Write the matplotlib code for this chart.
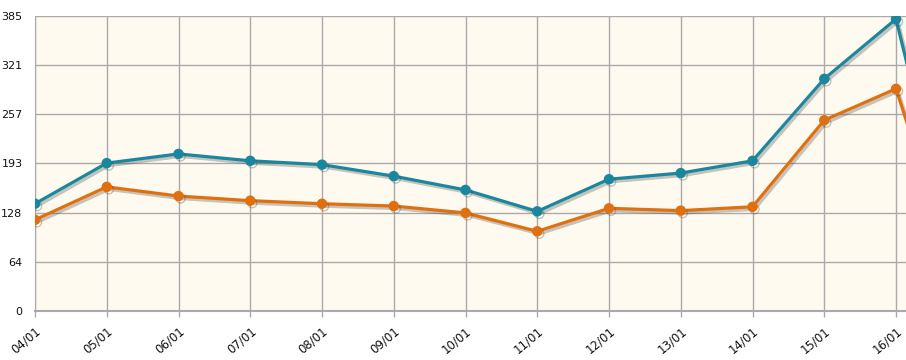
import matplotlib
matplotlib.use("Agg")
import matplotlib.pyplot as plt
import matplotlib.patheffects as pe
import numpy as np

# daily values; the last point (17/01) lies past the right edge of the plot
dates = ["04/01", "05/01", "06/01", "07/01", "08/01", "09/01", "10/01",
         "11/01", "12/01", "13/01", "14/01", "15/01", "16/01", "17/01"]
series_teal = [140, 193, 205, 196, 191, 176, 158, 130, 172, 180, 196, 303, 381, 0]
series_orange = [119, 162, 150, 144, 140, 137, 128, 104, 134, 131, 136, 249, 290, 0]
y_ticks = [0, 64, 128, 193, 257, 321, 385]

fig = plt.figure(figsize=(9.06, 3.6), dpi=100)
ax = fig.add_axes([35 / 906, 49 / 360, 871 / 906, 295 / 360])
ax.set_facecolor("#fffaef")

x = np.arange(len(dates))
shadow = [pe.SimpleLineShadow(offset=(1.5, -1.8), shadow_color="#444444", alpha=0.3), pe.Normal()]
for vals, col in [(series_orange, "#e0700f"), (series_teal, "#1a879f")]:
    ax.plot(x, vals, color=col, lw=2.3, marker="o", ms=6.5, mec=col, mfc=col,
            path_effects=shadow, zorder=3)

ax.set_xlim(0, 871 / 71.75)
ax.set_ylim(0, 385)
ax.set_xticks(x[:13])
ax.set_xticklabels(dates[:13], rotation=40, ha="right", rotation_mode="anchor",
                   fontsize=8.5, color="#111111")
ax.set_yticks(y_ticks)
ax.set_yticklabels([str(v) for v in y_ticks], fontsize=8, color="#111111")
ax.tick_params(axis="x", length=4, width=1, color="#aaaaaa", pad=6)
ax.tick_params(axis="y", length=0, pad=9)
ax.grid(True, color="#aaaaaa", lw=1)
ax.set_axisbelow(True)
for side in ["top", "right"]:
    ax.spines[side].set_visible(False)
ax.spines["left"].set_color("#aaaaaa")
ax.spines["bottom"].set_color("#aaaaaa")
ax.spines["bottom"].set_linewidth(1.5)

fig.savefig("out.png", dpi=100)
